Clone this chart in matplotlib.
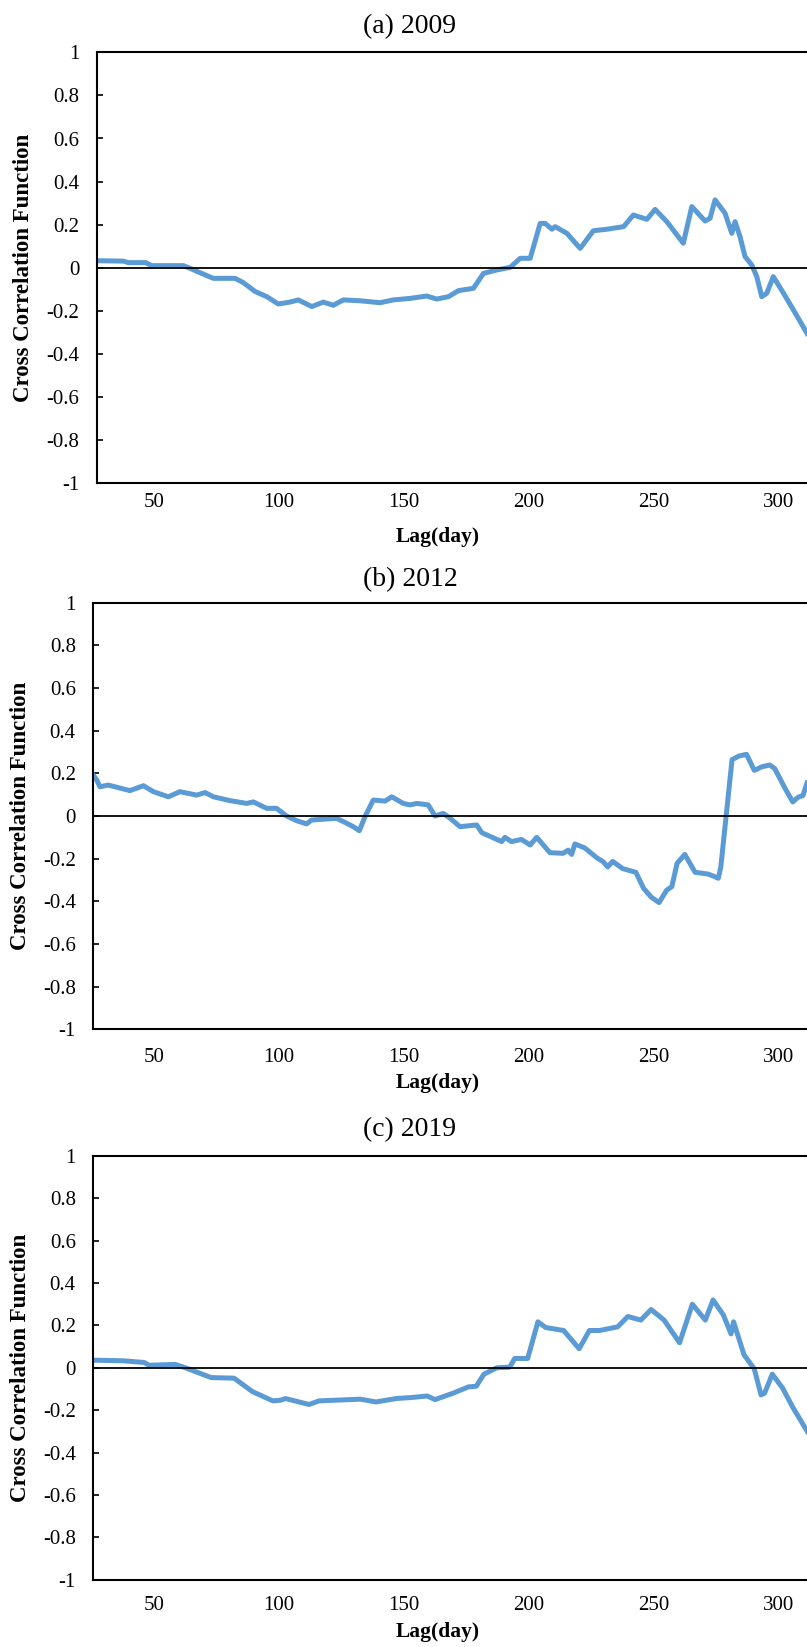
import matplotlib
matplotlib.use("Agg")
import matplotlib.pyplot as plt

plt.rcParams["font.family"] = ["Liberation Serif", "DejaVu Serif"]
plt.rcParams["axes.unicode_minus"] = False

# ---- data ----
lag_a = [27, 37.7, 39.7, 46.6, 49, 61.7, 64.3, 68.4, 73.7, 82.4, 85.7, 90.4, 95.1,
         99.7, 104.4, 107.7, 113.1, 117.7, 121.7, 125.7, 132.4, 140.4, 145.7, 152.4,
         159.1, 163.1, 167.8, 171.8, 177.8, 181.8, 187.1, 192.5, 196.5, 200.5, 204.5,
         206.5, 209.2, 210.5, 215.2, 220.5, 225.8, 231.2, 237.9, 241.8, 247.2, 250.5,
         255.2, 261.8, 265.2, 270.5, 272.5, 274.5, 278.5, 281.2, 282.5, 284.5, 286.5,
         289.2, 291.2, 293.2, 295.2, 297.8, 301.9, 305.9, 311.3]
ccf_a = [0.033, 0.031, 0.024, 0.024, 0.010, 0.010, -0.002, -0.023, -0.049, -0.049,
         -0.069, -0.110, -0.134, -0.168, -0.159, -0.149, -0.180, -0.159, -0.174, -0.149,
         -0.153, -0.162, -0.149, -0.142, -0.131, -0.145, -0.134, -0.106, -0.095, -0.026,
         -0.010, 0.002, 0.044, 0.044, 0.206, 0.206, 0.179, 0.191, 0.160, 0.090, 0.172,
         0.179, 0.191, 0.245, 0.225, 0.271, 0.214, 0.114, 0.284, 0.217, 0.230, 0.315,
         0.253, 0.160, 0.214, 0.144, 0.052, 0.013, -0.041, -0.134, -0.118, -0.041,
         -0.118, -0.196, -0.304]

lag_b = [25.6, 27, 28.3, 31.6, 40.3, 45.7, 49.7, 55.7, 60.3, 67, 70.4, 73.7, 80.4,
         87, 89.7, 95, 99, 103, 107, 111, 113, 117.7, 123, 125.7, 129.7, 132.1, 134.4,
         137.7, 142.4, 145.1, 149.7, 152.4, 155.1, 159.7, 162.4, 165.7, 168.4, 172.4,
         179.1, 181.1, 189.1, 190.4, 193, 197, 200.5, 203.1, 208.4, 213.7, 215.7, 217.1,
         218.4, 222.4, 227.3, 229.7, 231.5, 233.5, 237.6, 242.8, 245.9, 249, 252.1,
         255.1, 257.2, 259.3, 262.4, 266.5, 271.6, 273.7, 275.8, 276.8, 278.9, 281.3,
         284, 287.1, 290.2, 293.3, 296.4, 298.4, 302.5, 305.6, 307.7, 309.7, 311.3]
ccf_b = [0.192, 0.169, 0.137, 0.145, 0.119, 0.142, 0.114, 0.090, 0.114, 0.098, 0.110,
         0.090, 0.072, 0.059, 0.066, 0.036, 0.036, 0.000, -0.022, -0.037, -0.019,
         -0.015, -0.011, -0.026, -0.050, -0.069, -0.003, 0.075, 0.070, 0.090, 0.059,
         0.052, 0.059, 0.052, 0.000, 0.012, -0.010, -0.050, -0.042, -0.078, -0.120,
         -0.100, -0.120, -0.110, -0.136, -0.100, -0.172, -0.175, -0.160, -0.180,
         -0.131, -0.150, -0.197, -0.214, -0.239, -0.213, -0.247, -0.264, -0.339,
         -0.381, -0.406, -0.348, -0.331, -0.222, -0.180, -0.264, -0.272, -0.281,
         -0.292, -0.239, -0.004, 0.264, 0.281, 0.289, 0.214, 0.231, 0.239, 0.222,
         0.130, 0.066, 0.088, 0.096, 0.155]

lag_c = [25.6, 37.7, 46, 48, 58.4, 62.5, 72.8, 82, 89.3, 97.5, 100.6, 102.6, 112,
         116, 132.5, 138.8, 146.9, 153.1, 159.3, 162.4, 169.6, 175.8, 178.9, 182,
         187.1, 192.3, 194.3, 199.5, 203.6, 206.7, 209.8, 213.9, 220.1, 224.2, 228.3,
         235.5, 239.6, 244.8, 248.9, 254.1, 260.3, 265.4, 270.6, 273.7, 277.8, 280.9,
         281.9, 286.1, 290.2, 292.9, 294.3, 297.4, 301.5, 305.6, 311.4]
ccf_c = [0.036, 0.033, 0.025, 0.012, 0.016, 0.000, -0.046, -0.049, -0.112, -0.156,
         -0.153, -0.145, -0.173, -0.156, -0.148, -0.161, -0.145, -0.140, -0.133,
         -0.150, -0.120, -0.090, -0.087, -0.030, 0.000, 0.003, 0.044, 0.044, 0.217,
         0.190, 0.184, 0.176, 0.090, 0.176, 0.176, 0.193, 0.242, 0.225, 0.275, 0.225,
         0.118, 0.300, 0.225, 0.320, 0.250, 0.160, 0.217, 0.061, -0.005, -0.128,
         -0.120, -0.030, -0.095, -0.186, -0.300]

titles = ["(a) 2009", "(b) 2012", "(c) 2019"]
xticks = [50, 100, 150, 200, 250, 300]
yticks = [1, 0.8, 0.6, 0.4, 0.2, 0, -0.2, -0.4, -0.6, -0.8, -1]

# ---- layout (pixels of the 807 x 1647 picture) ----
W, H = 807, 1647
boxes = [(96.7, 52.3, 483.3, 27.0), (93.2, 602.7, 1029.3, 25.6), (93.2, 1155.8, 1579.8, 25.6)]
title_pos = [(410, 26.8), (410, 579.6), (410, 1129.7)]
xlab_pos = [(438, 536.7), (437.5, 1083), (438, 1632)]
ylab_x = [24, 20.6, 20.6]
xpads = [7, 13.5, 12]

series = [(lag_a, ccf_a), (lag_b, ccf_b), (lag_c, ccf_c)]

fig = plt.figure(figsize=(W / 100, H / 100), dpi=100)

for i in range(3):
    left, top, bottom, xmin = boxes[i]
    ax = fig.add_axes([left / W, 1 - bottom / H, (W - left) / W, (bottom - top) / H])
    lag, ccf = series[i]
    ax.plot(lag, ccf, color="#5B9BD5", lw=3.6, solid_joinstyle="round")
    ax.axhline(0, color="black", lw=1.3)
    ax.set_xlim(xmin, 311.3)
    ax.set_ylim(-1, 1)
    ax.set_xticks(xticks)
    ax.set_yticks(yticks)
    ax.set_yticklabels(["{:g}".format(v) for v in yticks])
    ax.tick_params(axis="x", length=0, pad=xpads[i], labelsize=15)
    ax.tick_params(axis="y", direction="in", length=4, width=1.2, pad=12.5, labelsize=15)
    ax.spines["right"].set_visible(False)
    for s in ["left", "top", "bottom"]:
        ax.spines[s].set_linewidth(1.5)

    fig.text(title_pos[i][0] / W, 1 - title_pos[i][1] / H, titles[i],
             ha="center", va="center", fontsize=20)
    fig.text(xlab_pos[i][0] / W, 1 - xlab_pos[i][1] / H, "Lag(day)",
             ha="center", va="center", fontsize=15.5, fontweight="bold")
    fig.text(ylab_x[i] / W, 1 - (top + bottom) / 2 / H, "Cross Correlation Function",
             ha="center", va="center", rotation=90, fontsize=16.5, fontweight="bold")

plt.savefig("out.png", dpi=100)
plt.close()
